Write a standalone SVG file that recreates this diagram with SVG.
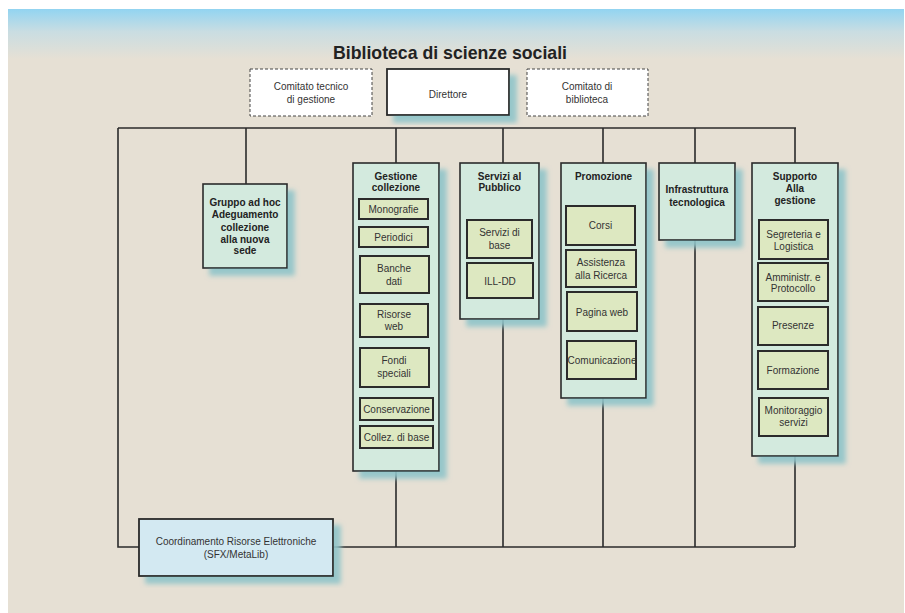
<svg xmlns="http://www.w3.org/2000/svg" width="905" height="613" viewBox="0 0 905 613">
<defs>
<linearGradient id="bg" x1="0" y1="0" x2="0" y2="1">
<stop offset="0" stop-color="#92d4f1"/>
<stop offset="0.45" stop-color="#c9dde2"/>
<stop offset="1" stop-color="#e6e0d4"/>
</linearGradient>
<filter id="sh" x="-10%" y="-10%" width="130%" height="130%">
<feOffset in="SourceAlpha" dx="7" dy="7" result="o"/>
<feGaussianBlur in="o" stdDeviation="2.5" result="b"/>
<feFlood flood-color="#8fc4c9" flood-opacity="0.9"/>
<feComposite in2="b" operator="in" result="s"/>
<feMerge><feMergeNode in="s"/><feMergeNode in="SourceGraphic"/></feMerge>
</filter>
</defs>
<style>
.box{fill:#d3eade;stroke:#2b2b2b;stroke-width:1.6}
.sub{fill:#dde8c1;stroke:#2b2b2b;stroke-width:2}
.wh{fill:#ffffff;stroke:#2b2b2b;stroke-width:1.8}
.dash{fill:#ffffff;stroke:#444;stroke-width:1;stroke-dasharray:3 2}
.ce{fill:#d3e9f2;stroke:#2b2b2b;stroke-width:1.8}
.t{font-family:"Liberation Sans",Arial,sans-serif;font-size:10px;fill:#333;text-anchor:middle}
.b{font-weight:bold;font-size:10px;fill:#222}
.ln{fill:none;stroke:#2b2b2b;stroke-width:1.6}
</style>
<rect x="0" y="0" width="905" height="613" fill="#ffffff"/>
<rect x="8" y="9" width="896" height="604" fill="#e6e0d4"/>
<rect x="8" y="9" width="896" height="50" fill="url(#bg)"/>
<text x="450" y="59" style="font-family:'Liberation Sans',Arial,sans-serif;font-size:17.7px;font-weight:bold;fill:#222;text-anchor:middle">Biblioteca di scienze sociali</text>

<g id="connectors" class="ln">
<path d="M118 128H796"/>
<path d="M118 128V547H139"/>
<path d="M246 128V184"/>
<path d="M396 128V163M396 471V547"/>
<path d="M503 128V163M503 319V547"/>
<path d="M603 128V163M603 398V547"/>
<path d="M695 128V163M695 240V547"/>
<path d="M795 128V163M795 456V547"/>
<path d="M333 547H795"/>
</g>

<g id="comitato-tecnico">
<rect class="dash" x="250" y="69" width="122" height="47"/>
<text class="t" x="311" y="89.5">Comitato tecnico</text>
<text class="t" x="311" y="102.5">di gestione</text>
</g>
<g id="direttore">
<rect class="wh" x="387" y="69" width="122" height="46" filter="url(#sh)"/>
<text class="t" x="448" y="97.5">Direttore</text>
</g>
<g id="comitato-biblioteca">
<rect class="dash" x="527" y="69" width="121" height="47"/>
<text class="t" x="587" y="89.5">Comitato di</text>
<text class="t" x="587" y="102.5">biblioteca</text>
</g>

<g id="gruppo">
<rect class="box" x="203" y="184" width="84" height="84" filter="url(#sh)"/>
<text class="t b" x="245" y="205.5">Gruppo ad hoc</text>
<text class="t b" x="245" y="218">Adeguamento</text>
<text class="t b" x="245" y="230.5">collezione</text>
<text class="t b" x="245" y="242.5">alla nuova</text>
<text class="t b" x="245" y="254">sede</text>
</g>

<g id="gestione">
<rect class="box" x="353" y="163" width="86" height="308" filter="url(#sh)"/>
<text class="t b" x="396" y="179.5">Gestione</text>
<text class="t b" x="396" y="190.8">collezione</text>
<rect class="sub" x="359" y="199" width="69" height="20"/>
<text class="t" x="393.5" y="212.5">Monografie</text>
<rect class="sub" x="359" y="227" width="69" height="20"/>
<text class="t" x="393.5" y="240.8">Periodici</text>
<rect class="sub" x="360" y="256" width="69" height="37"/>
<text class="t" x="394" y="271.8">Banche</text>
<text class="t" x="394" y="284.5">dati</text>
<rect class="sub" x="360" y="304" width="68" height="33"/>
<text class="t" x="394" y="317.8">Risorse</text>
<text class="t" x="394" y="330.2">web</text>
<rect class="sub" x="360" y="348" width="69" height="39"/>
<text class="t" x="394" y="364">Fondi</text>
<text class="t" x="394" y="376.8">speciali</text>
<rect class="sub" x="360" y="398" width="73" height="22"/>
<text class="t" x="396.5" y="412.8">Conservazione</text>
<rect class="sub" x="360" y="426" width="73" height="22"/>
<text class="t" x="396.5" y="440.8">Collez. di base</text>
</g>

<g id="servizi">
<rect class="box" x="460" y="163" width="79" height="156" filter="url(#sh)"/>
<text class="t b" x="499.5" y="179.5">Servizi al</text>
<text class="t b" x="499.5" y="190.8">Pubblico</text>
<rect class="sub" x="467" y="220" width="65" height="38"/>
<text class="t" x="499.5" y="236">Servizi di</text>
<text class="t" x="499.5" y="249">base</text>
<rect class="sub" x="467" y="263" width="66" height="35"/>
<text class="t" x="500" y="285">ILL-DD</text>
</g>

<g id="promozione">
<rect class="box" x="561" y="163" width="85" height="235" filter="url(#sh)"/>
<text class="t b" x="603.5" y="179.5">Promozione</text>
<rect class="sub" x="566" y="206" width="69" height="39"/>
<text class="t" x="600.5" y="228.8">Corsi</text>
<rect class="sub" x="566" y="250" width="70" height="37"/>
<text class="t" x="601" y="265.5">Assistenza</text>
<text class="t" x="601" y="278.5">alla Ricerca</text>
<rect class="sub" x="567" y="292" width="70" height="39"/>
<text class="t" x="602" y="315.8">Pagina web</text>
<rect class="sub" x="567" y="341" width="69" height="38"/>
<text class="t" x="602" y="363.5">Comunicazione</text>
</g>

<g id="infrastruttura">
<rect class="box" x="659" y="163" width="76" height="77" filter="url(#sh)"/>
<text class="t b" x="697" y="192.5">Infrastruttura</text>
<text class="t b" x="697" y="205.5">tecnologica</text>
</g>

<g id="supporto">
<rect class="box" x="752" y="163" width="86" height="293" filter="url(#sh)"/>
<text class="t b" x="795" y="179.5">Supporto</text>
<text class="t b" x="795" y="191.5">Alla</text>
<text class="t b" x="795" y="203.5">gestione</text>
<rect class="sub" x="759" y="220" width="69" height="39"/>
<text class="t" x="793.5" y="237.5">Segreteria e</text>
<text class="t" x="793.5" y="250.2">Logistica</text>
<rect class="sub" x="758" y="263" width="70" height="38"/>
<text class="t" x="793" y="280.5">Amministr. e</text>
<text class="t" x="793" y="291.5">Protocollo</text>
<rect class="sub" x="758" y="307" width="70" height="38"/>
<text class="t" x="793" y="329.2">Presenze</text>
<rect class="sub" x="758" y="351" width="70" height="38"/>
<text class="t" x="793" y="373.5">Formazione</text>
<rect class="sub" x="759" y="398" width="69" height="38"/>
<text class="t" x="793.5" y="413.5">Monitoraggio</text>
<text class="t" x="793.5" y="426.2">servizi</text>
</g>

<g id="coordinamento">
<rect class="ce" x="139" y="519" width="194" height="57" filter="url(#sh)"/>
<text class="t" x="236" y="545">Coordinamento Risorse Elettroniche</text>
<text class="t" x="236" y="557.5">(SFX/MetaLib)</text>
</g>
</svg>
